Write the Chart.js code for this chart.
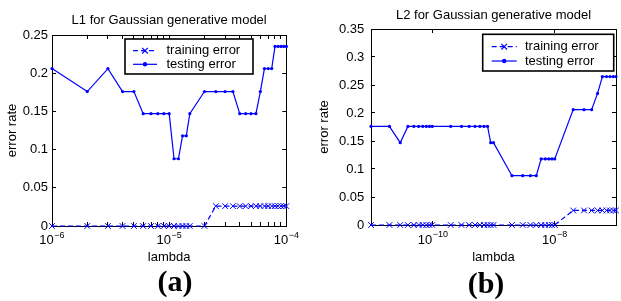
<!DOCTYPE html>
<html>
<head>
<meta charset="utf-8">
<script src="https://cdn.jsdelivr.net/npm/chart.js@4.4.1/dist/chart.umd.min.js"></script>
<style>
  html, body { margin: 0; padding: 0; background: #fff; }
  #wrap { position: relative; width: 621px; height: 301px; overflow: hidden; }
  canvas { position: absolute; top: 0; }
  .cap { position: absolute; font-family: "Liberation Serif", serif; font-weight: bold;
         font-size: 30px; line-height: 30px; transform: translate(-50%, -50%); color: #000; }
</style>
</head>
<body>
<div id="wrap">
  <canvas id="c1" width="310" height="301" style="left:0"></canvas>
  <canvas id="c2" width="311" height="301" style="left:310px"></canvas>
  <div class="cap" style="left:175px;top:281px">(a)</div>
  <div class="cap" style="left:486px;top:283px">(b)</div>
</div>
<script>
// ---------- data: (a) L1 ----------
const lambdaL1 = [1e-6, 2e-6, 3e-6, 4e-6, 5e-6, 6e-6, 7e-6, 8e-6, 9e-6, 1e-5,
  1.1e-5, 1.2e-5, 1.3e-5, 1.4e-5, 1.5e-5,
  2e-5, 2.5e-5, 3e-5, 3.5e-5, 4e-5, 4.5e-5, 5e-5, 5.5e-5, 6e-5, 6.5e-5,
  7e-5, 7.5e-5, 8e-5, 8.5e-5, 9e-5, 9.5e-5, 1e-4];
const trainL1 = [0, 0, 0, 0, 0, 0, 0, 0, 0, 0,
  0, 0, 0, 0, 0,
  0, 0.026, 0.026, 0.026, 0.026, 0.026, 0.026, 0.026, 0.026, 0.026,
  0.026, 0.026, 0.026, 0.026, 0.026, 0.026, 0.026];
const testL1 = [0.206, 0.176, 0.206, 0.176, 0.176, 0.147, 0.147, 0.147, 0.147, 0.147,
  0.088, 0.088, 0.118, 0.118, 0.147,
  0.176, 0.176, 0.176, 0.176, 0.147, 0.147, 0.147, 0.147, 0.176, 0.206,
  0.206, 0.206, 0.235, 0.235, 0.235, 0.235, 0.235];
const xMajorL1 = [1e-6, 1e-5, 1e-4];
const xExpL1 = ['−6', '−5', '−4'];
const yTicksL1 = [0, 0.05, 0.1, 0.15, 0.2, 0.25];
const yLabelsL1 = ['0', '0.05', '0.1', '0.15', '0.2', '0.25'];

// ---------- data: (b) L2 ----------
const lambdaL2 = [1e-11, 2e-11, 3e-11, 4e-11, 5e-11, 6e-11, 7e-11, 8e-11, 9e-11, 1e-10,
  2e-10, 3e-10, 4e-10, 5e-10, 6e-10, 7e-10, 8e-10, 9e-10, 1e-9,
  2e-9, 3e-9, 4e-9, 5e-9, 6e-9, 7e-9, 8e-9, 9e-9, 1e-8,
  2e-8, 3e-8, 4e-8, 5e-8, 6e-8, 7e-8, 8e-8, 9e-8, 1e-7];
const trainL2 = [0, 0, 0, 0, 0, 0, 0, 0, 0, 0,
  0, 0, 0, 0, 0, 0, 0, 0, 0,
  0, 0, 0, 0, 0, 0, 0, 0, 0,
  0.026, 0.026, 0.026, 0.026, 0.026, 0.026, 0.026, 0.026, 0.026];
const testL2 = [0.176, 0.176, 0.147, 0.176, 0.176, 0.176, 0.176, 0.176, 0.176, 0.176,
  0.176, 0.176, 0.176, 0.176, 0.176, 0.176, 0.176, 0.147, 0.147,
  0.088, 0.088, 0.088, 0.088, 0.118, 0.118, 0.118, 0.118, 0.118,
  0.206, 0.206, 0.206, 0.235, 0.265, 0.265, 0.265, 0.265, 0.265];
const xMajorL2 = [1e-10, 1e-8];
const xExpL2 = ['−10', '−8'];
const yTicksL2 = [0, 0.05, 0.1, 0.15, 0.2, 0.25, 0.3, 0.35];
const yLabelsL2 = ['0', '0.05', '0.1', '0.15', '0.2', '0.25', '0.3', '0.35'];

const seriesNames = ['training error', 'testing error'];

// ---------- helpers ----------
const BLUE = '#0000ff';
const FONT = 'Liberation Sans';

function findTick(list, v) {
  return list.findIndex(t => Math.abs(t - v) <= Math.abs(t) * 1e-6);
}

// base "10" is the axis tick label (padded on the right), exponent goes up in the gap
function baseLabel(list, exps) {
  return v => {
    const i = findTick(list, v);
    return i >= 0 ? '10' + ' '.repeat(exps[i].length + 1) : '';
  };
}

const expLabels = {
  id: 'expLabels',
  afterDraw(chart, args, o) {
    const { ctx } = chart;
    const sc = chart.scales.x;
    ctx.save();
    ctx.font = '13px "' + FONT + '"';
    const cb = sc.options.ticks.callback;
    o.values.forEach((v, i) => {
      const full = ctx.measureText(cb(v)).width;
      const w10 = ctx.measureText('10').width;
      const px = sc.getPixelForValue(v);
      const x = px - full / 2 + w10 + 0.5;
      ctx.font = '9px "' + FONT + '"';
      ctx.fillStyle = '#000';
      ctx.textAlign = 'left';
      ctx.textBaseline = 'alphabetic';
      ctx.fillText(o.exps[i], x, sc.top + o.dy);
      ctx.font = '13px "' + FONT + '"';
    });
    ctx.restore();
  }
};

// legend in a black box inside the plot, line + marker samples
const boxLegend = {
  id: 'boxLegend',
  afterDatasetsDraw(chart, args, o) {
    const { ctx, chartArea: a } = chart;
    const x = a.left + o.x, y = a.top + o.y;
    ctx.save();
    ctx.fillStyle = '#fff';
    ctx.fillRect(x, y, o.w, o.h);
    ctx.lineWidth = 1.6;
    ctx.strokeStyle = '#000';
    ctx.strokeRect(x, y, o.w, o.h);
    chart.data.datasets.forEach((ds, i) => {
      const ly = y + o.rows[i];
      ctx.strokeStyle = ds.borderColor;
      ctx.fillStyle = ds.borderColor;
      ctx.lineWidth = ds.borderWidth;
      ctx.setLineDash(ds.borderDash || []);
      ctx.beginPath();
      ctx.moveTo(x + o.l0, ly);
      ctx.lineTo(x + o.l1, ly);
      ctx.stroke();
      ctx.setLineDash([]);
      Chart.helpers.drawPoint(ctx, { pointStyle: ds.pointStyle, radius: ds.pointRadius, borderWidth: 1 },
        x + (o.l0 + o.l1) / 2, ly);
      ctx.fillStyle = '#000';
      ctx.font = '13px "' + FONT + '"';
      ctx.textBaseline = 'middle';
      ctx.fillText(ds.label, x + o.tx, ly);
    });
    ctx.restore();
  }
};

function makeChart(id, d) {
  const minor = [];
  d.minorDecades.forEach(dec => { for (let k = 2; k <= 9; k++) minor.push(k * dec); });
  const xTicks = d.xMajor.concat(minor).sort((p, q) => p - q);
  const grid = { drawOnChartArea: false, drawTicks: true, tickLength: -4, color: '#000', lineWidth: 1 };
  const border = { display: true, color: '#000', width: 1 };
  const tickFont = { family: FONT, size: 13 };

  return new Chart(document.getElementById(id), {
    type: 'line',
    data: {
      datasets: [
        {
          label: seriesNames[0],
          data: d.lambda.map((v, i) => ({ x: v, y: d.train[i] })),
          borderColor: BLUE, backgroundColor: BLUE, borderWidth: 1.2,
          borderDash: [5, 3], pointStyle: 'crossRot', pointRadius: 4,
          pointBorderWidth: 1, pointBorderColor: BLUE, clip: false
        },
        {
          label: seriesNames[1],
          data: d.lambda.map((v, i) => ({ x: v, y: d.test[i] })),
          borderColor: BLUE, backgroundColor: BLUE, borderWidth: 1.2,
          pointStyle: 'circle', pointRadius: 1.6, pointBorderWidth: 0,
          pointBackgroundColor: BLUE, clip: false
        }
      ]
    },
    options: {
      responsive: false,
      animation: false,
      layout: { padding: d.pad },
      plugins: {
        legend: { display: false },
        tooltip: { enabled: false },
        title: {
          display: true, text: d.title, fullSize: false, color: '#000',
          font: { family: FONT, size: 13, weight: 'normal' },
          padding: d.titlePad
        },
        boxLegend: d.legend,
        expLabels: { values: d.xMajor, exps: d.xExp, dy: d.expDy }
      },
      scales: {
        x: {
          type: 'logarithmic', position: 'bottom', min: d.xMin, max: d.xMax,
          afterBuildTicks: s => { s.ticks = xTicks.map(v => ({ value: v })); },
          afterFit: s => { s.height = d.xHeight; },
          ticks: { autoSkip: false, maxRotation: 0, padding: d.xTickPad, color: '#000', font: tickFont,
                   callback: baseLabel(d.xMajor, d.xExp) },
          grid, border,
          title: { display: true, text: 'lambda', color: '#000', font: tickFont, padding: { top: 0, bottom: 0 } }
        },
        x2: {
          type: 'logarithmic', position: 'top', min: d.xMin, max: d.xMax,
          afterBuildTicks: s => { s.ticks = xTicks.map(v => ({ value: v })); },
          afterFit: s => { s.height = 0; },
          ticks: { display: false }, grid, border
        },
        y: {
          type: 'linear', position: 'left', min: 0, max: d.yTicks[d.yTicks.length - 1],
          afterBuildTicks: s => { s.ticks = d.yTicks.map(v => ({ value: v })); },
          afterFit: s => { s.width = d.yWidth; },
          ticks: { padding: d.yTickPad, color: '#000', font: tickFont,
                   callback: v => { const i = findTick(d.yTicks, v); return i >= 0 ? d.yLabels[i] : ''; } },
          grid, border,
          title: { display: true, text: 'error rate', color: '#000', font: tickFont, padding: { top: d.yTitlePad, bottom: 0 } }
        },
        y2: {
          type: 'linear', position: 'right', min: 0, max: d.yTicks[d.yTicks.length - 1],
          afterBuildTicks: s => { s.ticks = d.yTicks.map(v => ({ value: v })); },
          afterFit: s => { s.width = 0; },
          ticks: { display: false }, grid, border
        }
      }
    },
    plugins: [boxLegend, expLabels]
  });
}

makeChart('c1', {
  lambda: lambdaL1, train: trainL1, test: testL1,
  xMin: 1e-6, xMax: 1e-4, xMajor: xMajorL1, xExp: xExpL1, minorDecades: [1e-6, 1e-5],
  yTicks: yTicksL1, yLabels: yLabelsL1,
  title: 'L1 for Gaussian generative model',
  pad: { left: 0, right: 16, top: 0, bottom: 35.5 },
  titlePad: { top: 13, bottom: 6.4 },
  xHeight: 39.5, xTickPad: 11, expDy: 11.5, yWidth: 52, yTickPad: 8, yTitlePad: 4.7,
  legend: { x: 73, y: 4, w: 128, h: 35, rows: [11.7, 25.3], l0: 8, l1: 32, tx: 41.5 }
});

makeChart('c2', {
  lambda: lambdaL2, train: trainL2, test: testL2,
  xMin: 1e-11, xMax: 1e-7, xMajor: xMajorL2, xExp: xExpL2, minorDecades: [],
  yTicks: yTicksL2, yLabels: yLabelsL2,
  title: 'L2 for Gaussian generative model',
  pad: { left: 0, right: 1, top: 0, bottom: 36 },
  titlePad: { top: 7.7, bottom: 5.7 },
  xHeight: 40, xTickPad: 12, expDy: 11.7, yWidth: 61, yTickPad: 10.7, yTitlePad: 6.2,
  legend: { x: 111.7, y: 5.3, w: 131, h: 36.7, rows: [12.4, 26.7], l0: 9, l1: 34, tx: 42.3 }
});
</script>
</body>
</html>
